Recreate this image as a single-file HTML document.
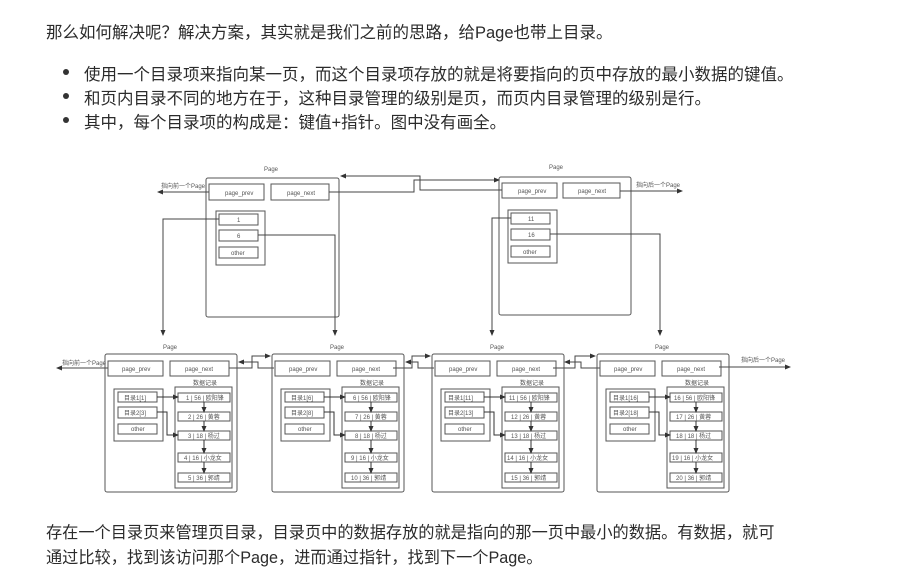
<!DOCTYPE html>
<html><head><meta charset="utf-8"><style>
html,body{margin:0;padding:0;background:#fff;width:916px;height:567px;overflow:hidden}
.t{position:absolute;font-family:"Liberation Sans","Noto Sans CJK SC",sans-serif;font-size:16.5px;color:#2b2b2b;white-space:nowrap}
.b{position:absolute;width:6px;height:6px;border-radius:50%;background:#333}
svg{position:absolute;left:0;top:0}
svg text{font-family:"Liberation Sans","Noto Sans CJK SC",sans-serif;font-size:6px;fill:#555}
</style></head><body>
<div class="t" style="left:46px;top:19px">那么如何解决呢？解决方案，其实就是我们之前的思路，给Page也带上目录。</div>
<div class="b" style="left:63px;top:69px"></div><div class="t" style="left:84px;top:61px">使用一个目录项来指向某一页，而这个目录项存放的就是将要指向的页中存放的最小数据的键值。</div>
<div class="b" style="left:63px;top:93px"></div><div class="t" style="left:84px;top:85px">和页内目录不同的地方在于，这种目录管理的级别是页，而页内目录管理的级别是行。</div>
<div class="b" style="left:63px;top:117px"></div><div class="t" style="left:84px;top:109px">其中，每个目录项的构成是：键值+指针。图中没有画全。</div>
<div class="t" style="left:46px;top:519px;font-size:16.2px">存在一个目录页来管理页目录，目录页中的数据存放的就是指向的那一页中最小的数据。有数据，就可</div>
<div class="t" style="left:46px;top:544px;font-size:16.2px">通过比较，找到该访问那个Page，进而通过指针，找到下一个Page。</div>
<svg width="916" height="567" viewBox="0 0 916 567">
<defs><marker id="a" markerWidth="6" markerHeight="6" refX="5" refY="3" orient="auto" markerUnits="userSpaceOnUse"><path d="M0,0.5 L6,3 L0,5.5z" fill="#333"/></marker></defs>
<g fill="none" stroke="#555" stroke-width="1">
<rect x="206" y="178" width="133" height="139" rx="2"/>
<rect x="209" y="184" width="55" height="16"/><rect x="271" y="184" width="58" height="16"/>
<rect x="216" y="211" width="49" height="54"/>
<rect x="219" y="214" width="39" height="11"/><rect x="219" y="230" width="39" height="11"/><rect x="219" y="247" width="39" height="11"/>
<rect x="499" y="177" width="132" height="138" rx="2"/>
<rect x="502" y="183" width="55" height="15"/><rect x="563" y="183" width="57" height="15"/>
<rect x="508" y="210" width="49" height="53"/>
<rect x="511" y="213" width="39" height="11"/><rect x="511" y="229" width="39" height="11"/><rect x="511" y="246" width="39" height="11"/>
</g>
<g fill="none" stroke="#444" stroke-width="1">
<path d="M209,192 H158" marker-end="url(#a)"/>
<path d="M620,191 H682" marker-end="url(#a)"/>
<path d="M329,192 H414 V180 H499" marker-end="url(#a)"/>
<path d="M502,190 H420 V176 H341" marker-end="url(#a)"/>
<path d="M219,219 H163 V335" marker-end="url(#a)"/>
<path d="M258,235 H335 V335" marker-end="url(#a)"/>
<path d="M511,218 H492 V335" marker-end="url(#a)"/>
<path d="M550,234 H660 V335" marker-end="url(#a)"/>
<path d="M108,368 H57" marker-end="url(#a)"/>
<path d="M719,367 H790" marker-end="url(#a)"/>
<path d="M229,368 H252 V356 H270" marker-end="url(#a)"/>
<path d="M274,368 H258 V362 H239" marker-end="url(#a)"/>
<path d="M393,368 H412 V356 H430" marker-end="url(#a)"/>
<path d="M434,368 H418 V362 H406" marker-end="url(#a)"/>
<path d="M553,368 H575 V356 H595" marker-end="url(#a)"/>
<path d="M600,368 H581 V362 H565" marker-end="url(#a)"/>
</g>
<text x="264" y="171">Page</text><text x="549" y="169">Page</text>
<text x="225" y="195">page_prev</text><text x="287" y="195">page_next</text>
<text x="518" y="193">page_prev</text><text x="578" y="193">page_next</text>
<text x="237" y="222">1</text><text x="237" y="238">6</text><text x="231" y="255">other</text>
<text x="528" y="221">11</text><text x="528" y="237">16</text><text x="523" y="254">other</text>
<text x="161" y="188">指向前一个Page</text><text x="636" y="187">指向后一个Page</text>
<text x="62" y="365">指向前一个Page</text><text x="741" y="362">指向后一个Page</text>

<g id="p1">
<g fill="none" stroke="#555" stroke-width="1">
<rect x="105" y="354" width="132" height="138" rx="2"/>
<rect x="108" y="361" width="55" height="15"/><rect x="170" y="361" width="59" height="15"/>
<rect x="114" y="389" width="49" height="52"/>
<rect x="118" y="392" width="39" height="10"/><rect x="118" y="407" width="39" height="11"/><rect x="118" y="424" width="39" height="10"/>
<rect x="175" y="387" width="57" height="101"/>
<rect x="178" y="393" width="52" height="9"/><rect x="178" y="412" width="52" height="9"/><rect x="178" y="431" width="52" height="9"/><rect x="178" y="453" width="52" height="9"/><rect x="178" y="473" width="52" height="9"/>
</g>
<g fill="none" stroke="#333">
<path d="M157,397 H178" marker-end="url(#a)"/>
<path d="M157,412 H167 V435 H178" marker-end="url(#a)"/>
<path d="M204,402 V412" marker-end="url(#a)"/><path d="M204,421 V431" marker-end="url(#a)"/><path d="M204,440 V453" marker-end="url(#a)"/><path d="M204,462 V473" marker-end="url(#a)"/>
</g>
<text x="163" y="349">Page</text>
<text x="122" y="371">page_prev</text><text x="185" y="371">page_next</text>
<text x="193" y="385">数据记录</text>
<text x="131" y="431">other</text>
</g>
<use href="#p1" transform="translate(167,0)"/>
<use href="#p1" transform="translate(327,0)"/>
<use href="#p1" transform="translate(492,0)"/>
<g>
<text x="124" y="400">目录1[1]</text><text x="124" y="415">目录2[3]</text>
<text x="186" y="400">1 | 56 | 欧阳锋</text><text x="188" y="419">2 | 26 | 黄蓉</text><text x="188" y="438">3 | 18 | 杨过</text><text x="184" y="460">4 | 16 | 小龙女</text><text x="188" y="480">5 | 36 | 郭靖</text>
<text x="291" y="400">目录1[6]</text><text x="291" y="415">目录2[8]</text>
<text x="353" y="400">6 | 56 | 欧阳锋</text><text x="355" y="419">7 | 26 | 黄蓉</text><text x="355" y="438">8 | 18 | 杨过</text><text x="351" y="460">9 | 16 | 小龙女</text><text x="351" y="480">10 | 36 | 郭靖</text>
<text x="448" y="400">目录1[11]</text><text x="448" y="415">目录2[13]</text>
<text x="509" y="400">11 | 56 | 欧阳锋</text><text x="511" y="419">12 | 26 | 黄蓉</text><text x="511" y="438">13 | 18 | 杨过</text><text x="507" y="460">14 | 16 | 小龙女</text><text x="511" y="480">15 | 36 | 郭靖</text>
<text x="613" y="400">目录1[16]</text><text x="613" y="415">目录2[18]</text>
<text x="674" y="400">16 | 56 | 欧阳锋</text><text x="676" y="419">17 | 26 | 黄蓉</text><text x="676" y="438">18 | 18 | 杨过</text><text x="672" y="460">19 | 16 | 小龙女</text><text x="676" y="480">20 | 36 | 郭靖</text>
</g>
</svg>
</body></html>
